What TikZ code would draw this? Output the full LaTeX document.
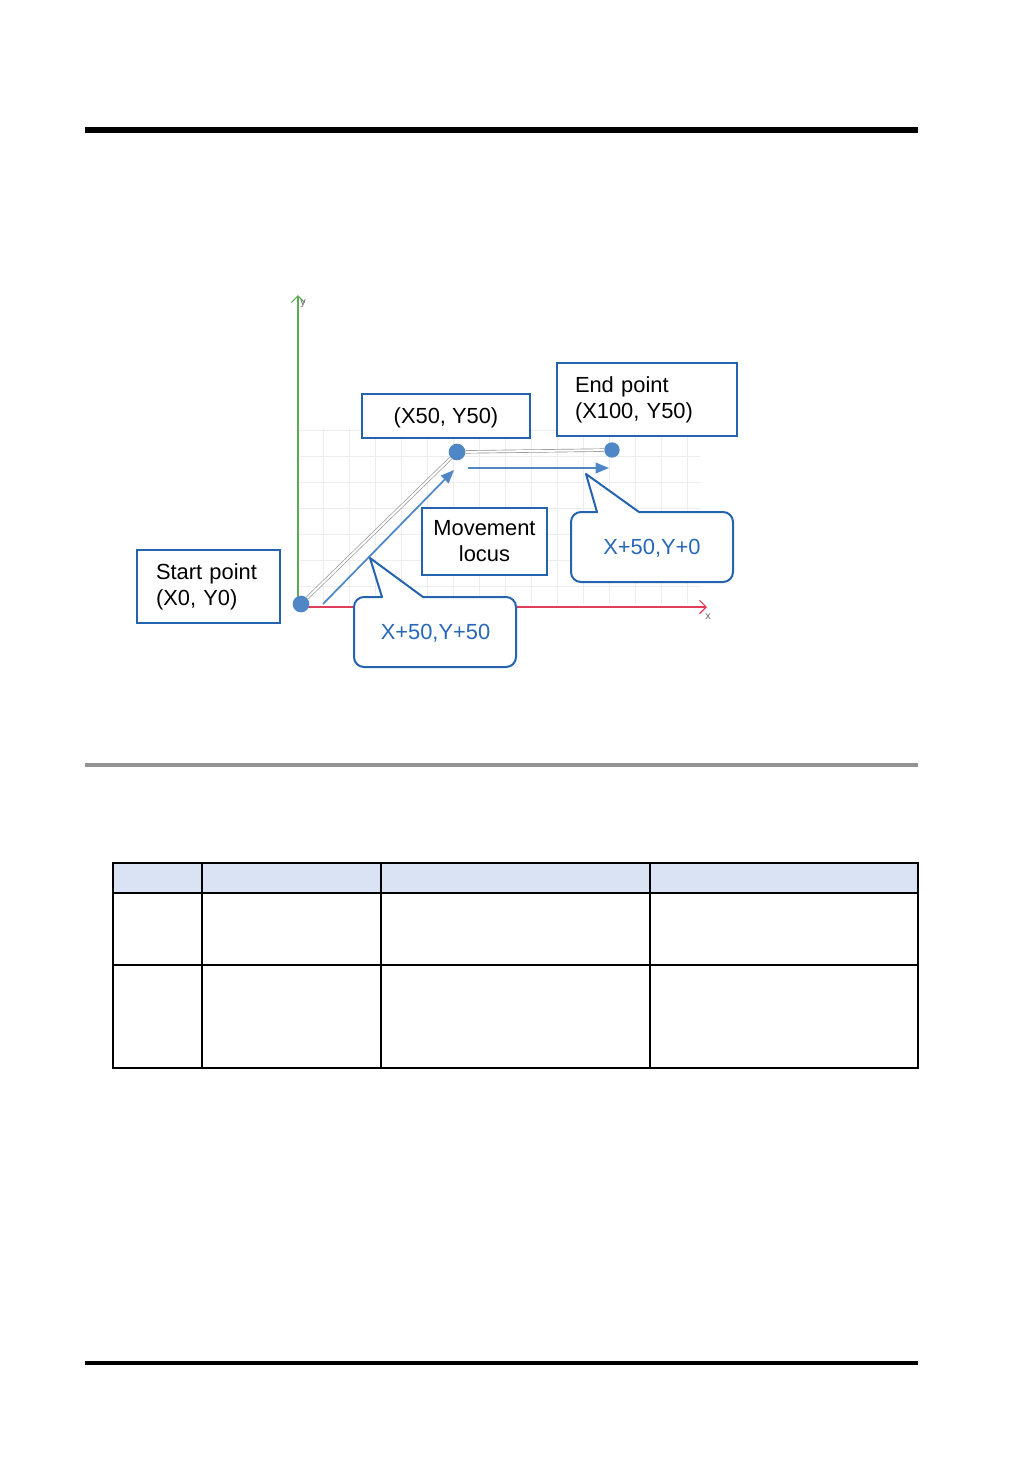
\documentclass[tikz,border=0pt]{standalone}
\usepackage{fontspec}
\setmainfont{Liberation Sans}
\usetikzlibrary{arrows.meta}

\definecolor{boxblue}{RGB}{36,99,174}
\definecolor{txtblue}{RGB}{40,104,184}
\definecolor{dotblue}{RGB}{79,135,198}
\definecolor{headblue}{RGB}{217,227,243}
\definecolor{axgreen}{RGB}{90,170,80}
\definecolor{axred}{RGB}{225,60,90}

\begin{document}
\begin{tikzpicture}[
  x=0.75pt, y=-0.75pt,
  every node/.style={font=\fontsize{16.4}{19.5}\selectfont},
  box/.style={draw=boxblue, fill=white, line width=1.5pt, inner sep=0pt},
  calltext/.style={text=txtblue, inner sep=0pt},
  cline/.style={draw=boxblue, fill=white, line width=1.5pt, line join=round},
  dot/.style={circle, fill=dotblue, inner sep=0pt, minimum size=12.5pt},
  path/.style={draw=gray!85, line width=0.5pt, double=white, double distance=1.5pt},
  mover/.style={draw=dotblue, line width=1.3pt, -{Triangle[length=10pt, width=8pt]}}
]
\useasboundingbox (0,0) rectangle (1032,1457);

% page rules
\draw[line width=4.5pt] (85,130) -- (918,130);
\draw[line width=3pt, gray!85] (85,765) -- (918,765);
\draw[line width=3pt] (85,1363) -- (918,1363);

% faint grid
\foreach \gx in {323,349,...,700}
  \draw[black!7, line width=0.75pt] (\gx,428) -- (\gx,604);
\foreach \gy in {430,456,...,604}
  \draw[black!7, line width=0.75pt] (300,\gy) -- (700,\gy);

% axes
\coordinate (o) at (298,607);
\coordinate (ytop) at (298,295);
\coordinate (xend) at (707,607);
\draw[axgreen, line width=0.9pt, -{Straight Barb[length=5pt]}] (o) -- (ytop);
\draw[axred, line width=0.9pt, -{Straight Barb[length=5pt]}] (o) -- (xend);
\node[font=\fontsize{8}{8}\selectfont, text=gray!80!black] (ylab) at (303,304) {y};
\node[font=\fontsize{8}{8}\selectfont, text=gray!80!black] (xlab) at (708,617) {x};

% points
\node[dot] (p0) at (301,604) {};
\node[dot] (p1) at (457,452) {};
\node[dot, minimum size=11.5pt] (p2) at (612,450) {};
\draw[path] (p0) -- (p1);
\draw[path] (p1) -- (p2);

% movement arrows
\coordinate (a0) at (323,604);
\coordinate (a1) at (454,470);
\coordinate (b0) at (468,468);
\coordinate (b1) at (609,468);
\draw[mover] (a0) -- (a1);
\draw[mover] (b0) -- (b1);

% boxes
\node[box, minimum width=107.25pt, minimum height=54.75pt, inner xsep=14.25pt,
      text width=78.75pt, align=left] (start) at (208.5,586.5) {Start point\\(X0, Y0)};
\node[box, minimum width=126pt, minimum height=33pt, text depth=1pt] (mid) at (446,416) {(X50, Y50)};
\node[box, minimum width=135pt, minimum height=54.75pt, inner xsep=13.5pt,
      text width=108pt, align=left] (end) at (647,399.5) {End point\\(X100, Y50)};
\node[box, minimum width=93.75pt, minimum height=50.25pt, align=center] (locus) at (484.5,541.5) {Movement\\locus};

% callouts
\coordinate (t1) at (586,474);
\draw[cline] (597,512) -- (t1) -- (639,512) [rounded corners=7.5pt] -- (733,512)
  -- (733,582) -- (571,582) -- (571,512) [sharp corners] -- cycle;
\node[calltext, minimum width=121.5pt, minimum height=52.5pt, text depth=1pt] (c1) at (652,548) {X+50,Y+0};

\coordinate (t2) at (370,558);
\draw[cline] (382,597) -- (t2) -- (423,597) [rounded corners=7.5pt] -- (516,597)
  -- (516,667) -- (354,667) -- (354,597) [sharp corners] -- cycle;
\node[calltext, minimum width=121.5pt, minimum height=52.5pt, text depth=1pt] (c2) at (435.5,633) {X+50,Y+50};

% table
\fill[headblue] (113,863) rectangle (918,893);
\draw[line width=1.1pt] (113,863) rectangle (918,1068);
\draw[line width=1.1pt] (113,893) -- (918,893);
\draw[line width=1.1pt] (113,965) -- (918,965);
\foreach \cx in {202,381,650}
  \draw[line width=1.1pt] (\cx,863) -- (\cx,1068);
\end{tikzpicture}
\end{document}
